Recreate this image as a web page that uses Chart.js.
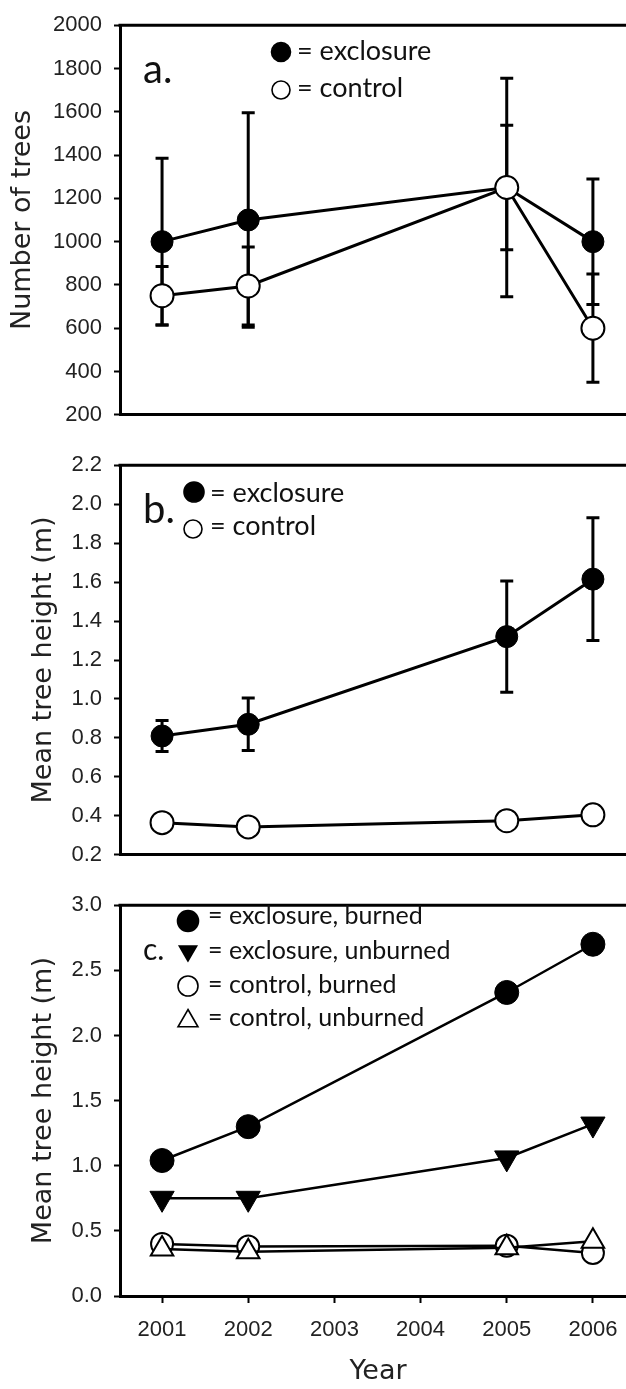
<!DOCTYPE html>
<html>
<head>
<meta charset="utf-8">
<script src="https://cdn.jsdelivr.net/npm/chart.js@4.4.1/dist/chart.umd.min.js"></script>
<style>
  html, body { margin: 0; padding: 0; background: #fff; overflow: hidden; width: 626px; height: 1389px; }
  canvas { position: absolute; left: 0; }
</style>
</head>
<body>
<canvas id="chartA" width="660" height="440" style="top:0px"></canvas>
<canvas id="chartB" width="660" height="440" style="top:440px"></canvas>
<canvas id="chartC" width="660" height="509" style="top:880px"></canvas>
<script>
// sample years and x tick labels
var years = [2001, 2002, 2005, 2006];
var yearTicks = [2001, 2002, 2003, 2004, 2005, 2006];

// a. number of trees (mean and error)
var treesExcl = [1000, 1100, 1250, 1000];
var treesExclErr = [385, 495, 505, 290];
var treesCtrl = [750, 795, 1250, 600];
var treesCtrlErr = [135, 180, 288, 250];
var treesTicks = [200, 400, 600, 800, 1000, 1200, 1400, 1600, 1800, 2000];

// b. mean tree height (m)
var heightExcl = [0.81, 0.87, 1.32, 1.615];
var heightExclErr = [0.08, 0.135, 0.285, 0.315];
var heightCtrl = [0.365, 0.343, 0.375, 0.405];
var heightTicks = [0.2, 0.4, 0.6, 0.8, 1.0, 1.2, 1.4, 1.6, 1.8, 2.0, 2.2];

// c. mean tree height by burn treatment (m)
var exclBurned = [1.04, 1.30, 2.33, 2.70];
var exclUnburned = [0.75, 0.75, 1.06, 1.32];
var ctrlBurned = [0.40, 0.38, 0.385, 0.33];
var ctrlUnburned = [0.36, 0.34, 0.37, 0.42];
var burnTicks = [0, 0.5, 1.0, 1.5, 2.0, 2.5, 3.0];

var tickFont = { family: '"Liberation Sans", Arial, sans-serif', size: 22 };
var titleFont = { family: '"DejaVu Sans", sans-serif', size: 27 };

function pts(ys) {
  return years.map(function (yr, i) { return { x: yr, y: ys[i] }; });
}

// marker for the in-plot keys
function marker(ctx, style, x, y, r, filled, rot) {
  ctx.save();
  ctx.beginPath();
  if (style === 'circle') {
    ctx.arc(x, y, r, 0, Math.PI * 2);
  } else {
    var a = (rot || 0) * Math.PI / 180;
    for (var k = 0; k < 3; k++) {
      var px = x + Math.sin(a) * r, py = y - Math.cos(a) * r;
      if (k === 0) ctx.moveTo(px, py); else ctx.lineTo(px, py);
      a += Math.PI * 2 / 3;
    }
    ctx.closePath();
  }
  ctx.fillStyle = filled ? '#000' : '#fff';
  ctx.fill();
  ctx.lineWidth = 1.6;
  ctx.strokeStyle = '#000';
  ctx.stroke();
  ctx.restore();
}

// error bars under the markers
var errorBars = {
  id: 'errorBars',
  beforeDatasetsDraw: function (chart) {
    var ctx = chart.ctx, ys = chart.scales.y;
    chart.data.datasets.forEach(function (ds, i) {
      if (!ds.errors) return;
      var meta = chart.getDatasetMeta(i);
      ctx.save();
      ctx.strokeStyle = '#000';
      ctx.lineWidth = 3;
      meta.data.forEach(function (pt, j) {
        var v = ds.data[j].y, e = ds.errors[j];
        var top = ys.getPixelForValue(v + e), bot = ys.getPixelForValue(v - e);
        ctx.beginPath();
        ctx.moveTo(pt.x, top); ctx.lineTo(pt.x, bot);
        ctx.moveTo(pt.x - 6.5, top); ctx.lineTo(pt.x + 6.5, top);
        ctx.moveTo(pt.x - 6.5, bot); ctx.lineTo(pt.x + 6.5, bot);
        ctx.stroke();
      });
      ctx.restore();
    });
  }
};

// top and right edges of the box, plus the panel letter and key
var frameAndKey = {
  id: 'frameAndKey',
  afterDraw: function (chart) {
    var ctx = chart.ctx, a = chart.chartArea;
    ctx.save();
    ctx.strokeStyle = '#000';
    ctx.lineWidth = 3;
    ctx.beginPath();
    ctx.moveTo(a.left - 1.5, a.top);
    ctx.lineTo(a.right, a.top);
    ctx.lineTo(a.right, a.bottom);
    ctx.stroke();

    var key = chart.options.plugins.frameAndKey;
    ctx.fillStyle = '#111';
    ctx.textBaseline = 'alphabetic';
    ctx.font = key.letterSize + 'px Lato, "Open Sans", sans-serif';
    ctx.fillText(key.letter, key.letterX, key.letterY);
    ctx.font = key.textSize + 'px Lato, "Open Sans", sans-serif';
    key.items.forEach(function (it) {
      marker(ctx, it.style, it.mx, it.my, it.r, it.filled, it.rot);
      ctx.fillStyle = '#111';
      ctx.fillText(it.text, it.tx, it.ty);
    });
    ctx.restore();
  }
};

function makePanel(id, datasets, yTicks, yTitle, titlePad, decimals, isBottom, pad, xHeight, key) {
  return new Chart(document.getElementById(id), {
    type: 'scatter',
    data: { datasets: datasets },
    plugins: [errorBars, frameAndKey],
    options: {
      responsive: false,
      animation: false,
      events: [],
      layout: { padding: { top: pad, right: 24, bottom: 0, left: 0 } },
      plugins: { legend: { display: false }, tooltip: { enabled: false }, frameAndKey: key },
      scales: {
        x: {
          type: 'linear',
          min: 2000.512,
          max: 2006.5,
          afterBuildTicks: function (s) { s.ticks = yearTicks.map(function (v) { return { value: v }; }); },
          afterFit: function (s) { s.height = xHeight; },
          border: { display: true, color: '#000', width: 3 },
          grid: { display: isBottom, drawOnChartArea: false, drawTicks: true, tickLength: 7, tickColor: '#000', tickWidth: 2 },
          ticks: { display: isBottom, color: '#222', font: tickFont, padding: 14, maxRotation: 0,
                   callback: function (v) { return String(v); } },
          title: { display: isBottom, text: 'Year', color: '#222', font: titleFont, padding: { top: 0, bottom: 1 } }
        },
        y: {
          type: 'linear',
          min: yTicks[0],
          max: yTicks[yTicks.length - 1],
          afterBuildTicks: function (s) { s.ticks = yTicks.map(function (v) { return { value: v }; }); },
          afterFit: function (s) { s.width = 120; },
          border: { display: true, color: '#000', width: 3 },
          grid: { display: true, drawOnChartArea: false, drawTicks: true, tickLength: 6, tickColor: '#000', tickWidth: 2 },
          ticks: { color: '#222', font: tickFont, padding: 12,
                   callback: function (v) { return v.toFixed(decimals); } },
          title: { display: true, text: yTitle, color: '#222', font: titleFont, padding: { top: titlePad, bottom: 0 } }
        }
      }
    }
  });
}

function series(values, style, filled, r, order, extra) {
  var ds = {
    data: pts(values),
    showLine: true,
    borderColor: '#000',
    borderWidth: 3,
    pointStyle: style,
    pointRadius: r,
    pointBackgroundColor: filled ? '#000' : '#fff',
    pointBorderColor: '#000',
    pointBorderWidth: filled ? 1 : 2,
    order: order
  };
  for (var k in extra) ds[k] = extra[k];
  return ds;
}

// a.
makePanel('chartA', [
  series(treesCtrl, 'circle', false, 11.5, 0, { errors: treesCtrlErr }),
  series(treesExcl, 'circle', true, 11, 1, { errors: treesExclErr })
], treesTicks, 'Number of trees', 7, 0, false, 22, 22, {
  letter: 'a.', letterSize: 40, letterX: 143, letterY: 83, textSize: 27,
  items: [
    { style: 'circle', filled: true, r: 9.5, mx: 281, my: 52, text: '= exclosure', tx: 297, ty: 60 },
    { style: 'circle', filled: false, r: 9, mx: 281, my: 90, text: '= control', tx: 297, ty: 97 }
  ]
});

// b.
makePanel('chartB', [
  series(heightCtrl, 'circle', false, 11.5, 0, {}),
  series(heightExcl, 'circle', true, 11, 1, { errors: heightExclErr })
], heightTicks, 'Mean tree height (m)', 28, 1, false, 21, 22, {
  letter: 'b.', letterSize: 40, letterX: 143, letterY: 83, textSize: 27,
  items: [
    { style: 'circle', filled: true, r: 10, mx: 194, my: 52, text: '= exclosure', tx: 210, ty: 62 },
    { style: 'circle', filled: false, r: 9, mx: 193, my: 89, text: '= control', tx: 210, ty: 95 }
  ]
});

// c.
makePanel('chartC', [
  series(ctrlUnburned, 'triangle', false, 13, 0, { borderWidth: 2.5 }),
  series(ctrlBurned, 'circle', false, 11, 1, { borderWidth: 2.5 }),
  series(exclUnburned, 'triangle', true, 14, 2, { borderWidth: 2.5, pointRotation: 180 }),
  series(exclBurned, 'circle', true, 12, 3, { borderWidth: 2.5 })
], burnTicks, 'Mean tree height (m)', 28, 1, true, 19, 93, {
  letter: 'c.', letterSize: 30, letterX: 143, letterY: 80, textSize: 25,
  items: [
    { style: 'circle', filled: true, r: 10.5, mx: 188, my: 41, text: '= exclosure, burned', tx: 208, ty: 44 },
    { style: 'triangle', filled: true, r: 10, rot: 180, mx: 188, my: 71, text: '= exclosure, unburned', tx: 208, ty: 79 },
    { style: 'circle', filled: false, r: 10, mx: 188, my: 106, text: '= control, burned', tx: 208, ty: 113 },
    { style: 'triangle', filled: false, r: 11.5, mx: 188, my: 141, text: '= control, unburned', tx: 208, ty: 146 }
  ]
});
</script>
</body>
</html>
